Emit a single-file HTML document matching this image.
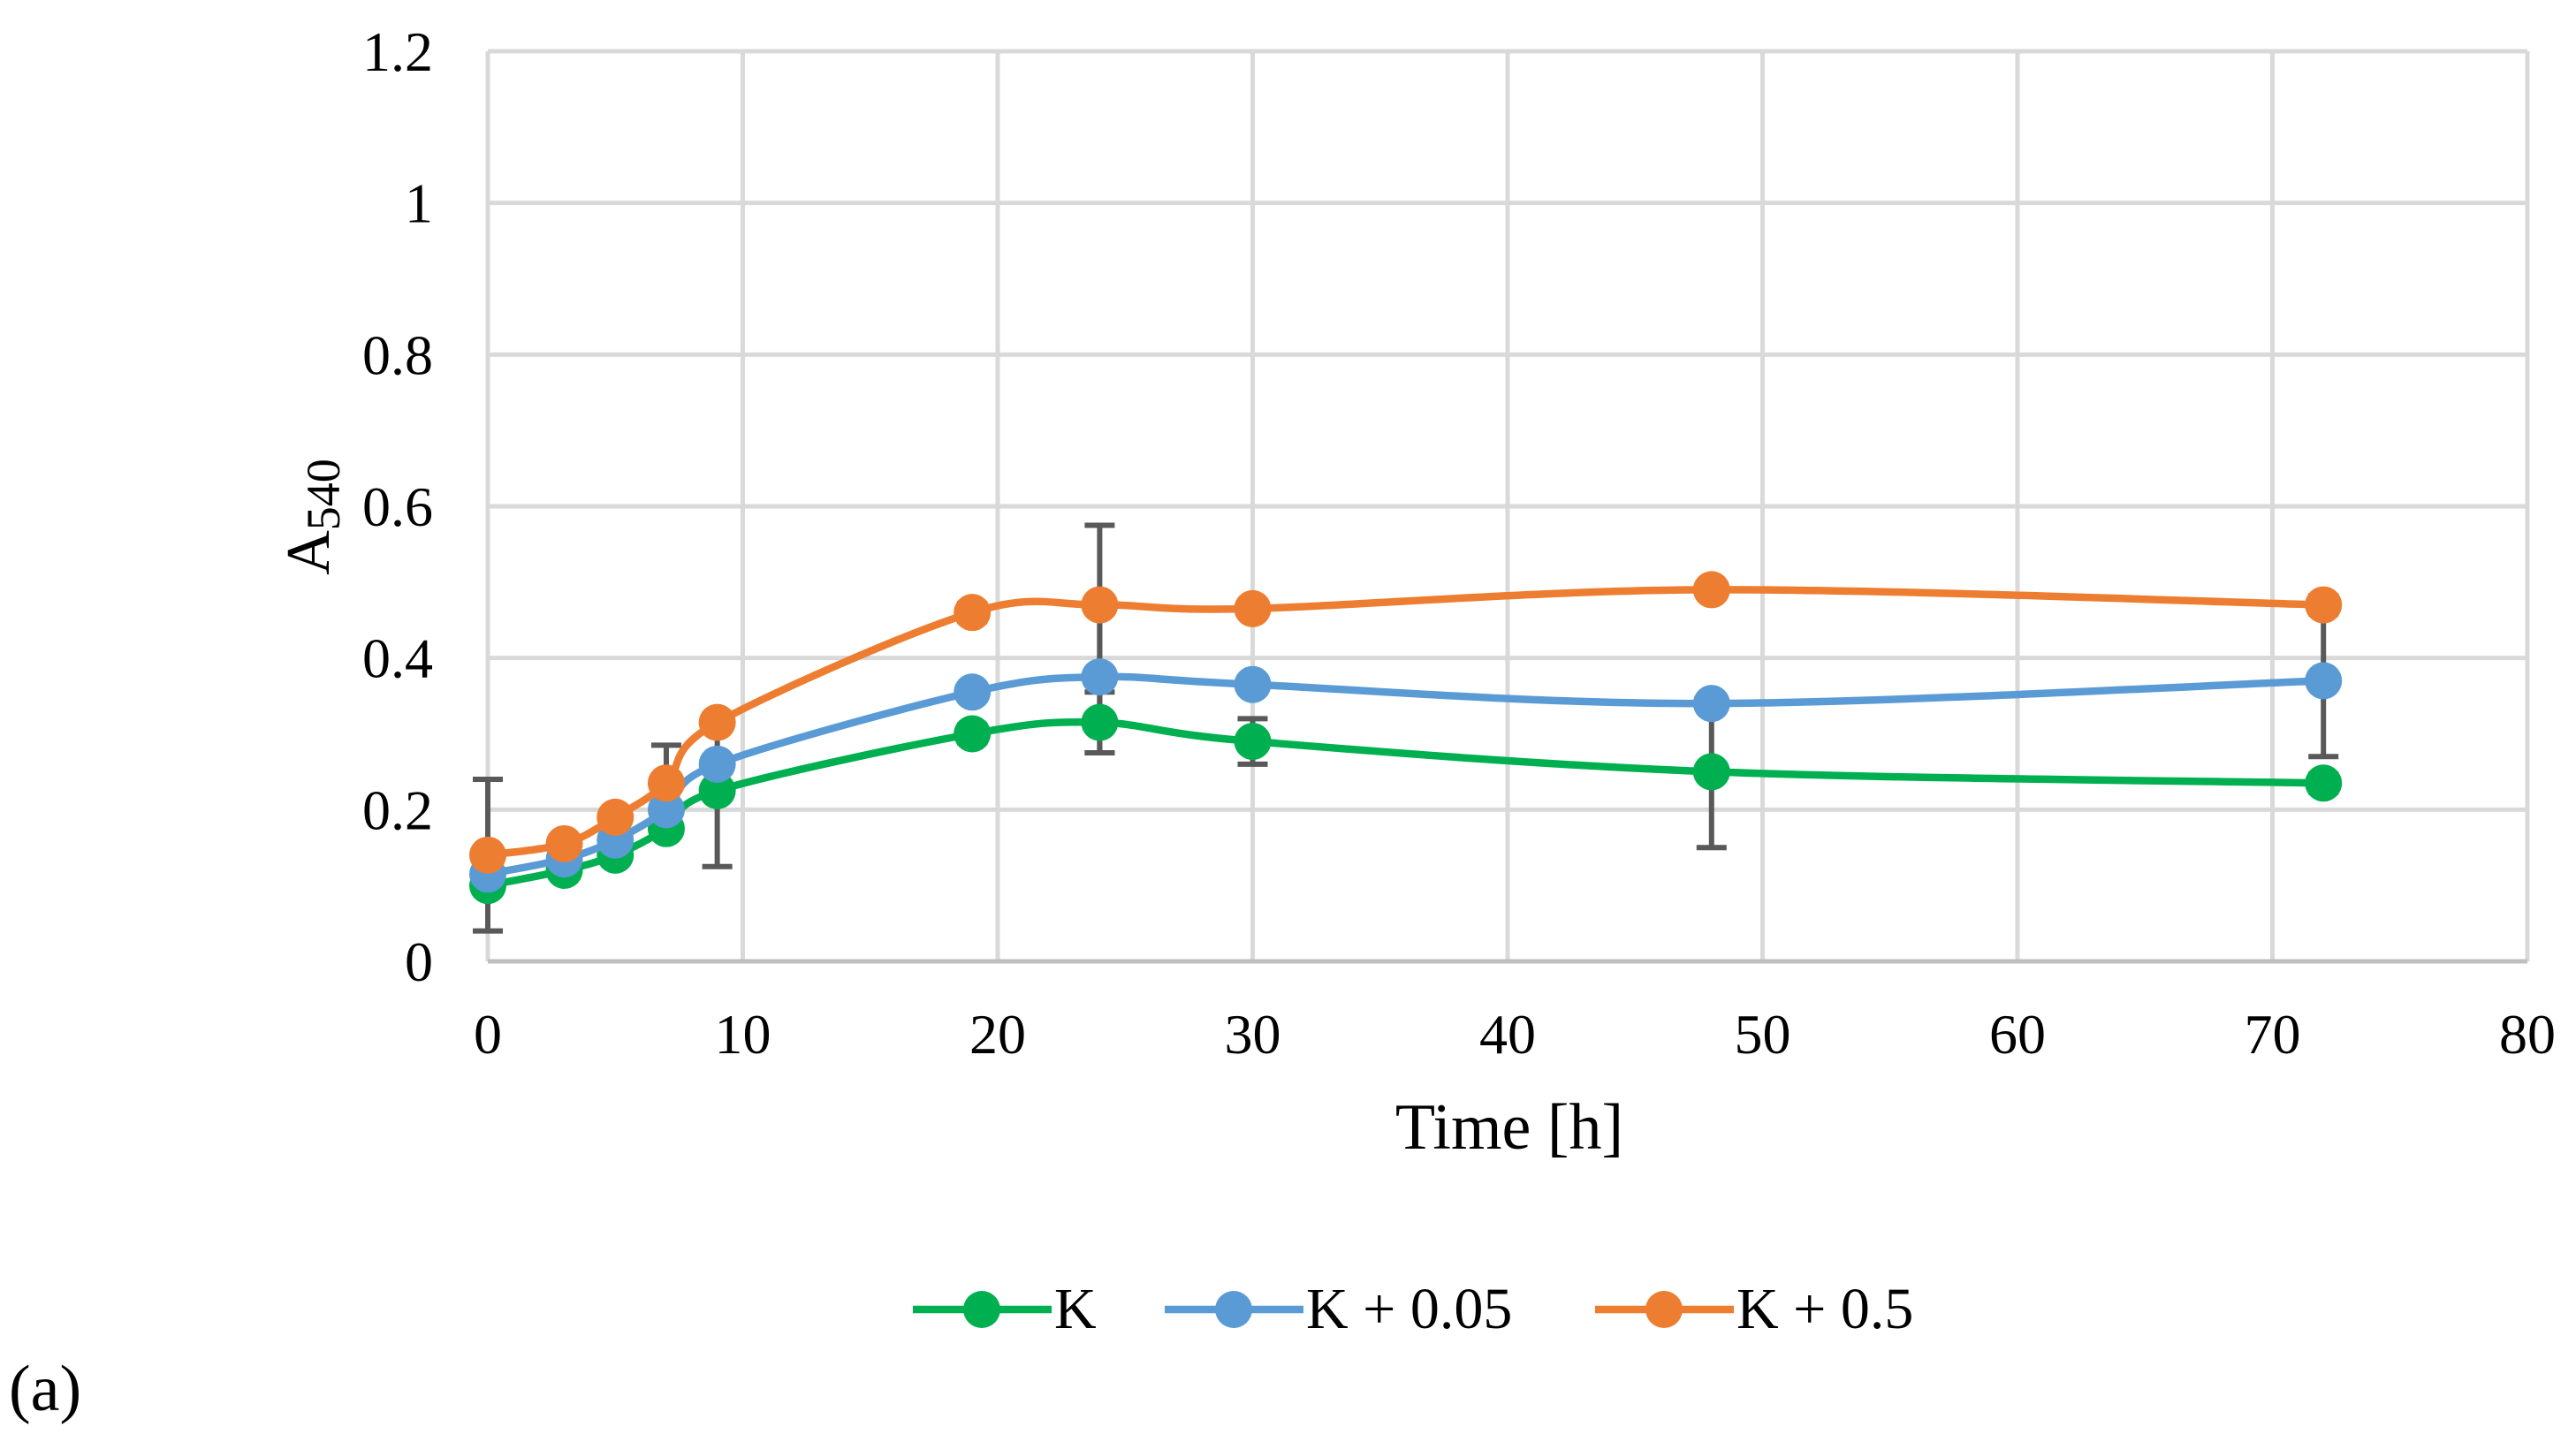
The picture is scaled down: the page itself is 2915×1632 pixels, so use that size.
<!DOCTYPE html>
<html><head><meta charset="utf-8"><style>
body{margin:0;background:#fff}
svg{display:block}
text{font-family:"Liberation Serif",serif;fill:#000}
</style></head><body>
<svg id="c" width="2915" height="1632" viewBox="0 0 2915 1632">
<g id="grid"></g>
<g id="errs"></g>
<g id="series"></g>
<g id="ticks"></g>
<text x="1708" y="1300" font-size="74" text-anchor="middle">Time [h]</text>
<text transform="translate(372,585) rotate(-90)" font-size="70" text-anchor="middle">A<tspan font-size="54" dy="12">540</tspan></text>
<g id="legend"></g>
<text x="10" y="1596" font-size="74">(a)</text>
</svg>
<script>
const times=[0,3,5,7,9,19,24,30,48,72];
const seriesNames=["K","K + 0.05","K + 0.5"];
const kVals=[0.1,0.12,0.14,0.175,0.225,0.3,0.315,0.29,0.25,0.235];
const k005Vals=[0.115,0.135,0.16,0.2,0.26,0.355,0.375,0.365,0.34,0.37];
const k05Vals=[0.14,0.155,0.19,0.235,0.315,0.46,0.47,0.465,0.49,0.47];
const kErr=[0,0,0,0,0.1,0.012,0.04,0.03,0.1,0.012];
const k005Err=[0,0,0,0,0,0,0.1,0,0,0.1];
const k05Err=[0.1,0,0,0.05,0,0.012,0.105,0,0,0.012];
const xTicks=[0,10,20,30,40,50,60,70,80];
const yTicks=[0,0.2,0.4,0.6,0.8,1,1.2];
const yTickLabels=["0","0.2","0.4","0.6","0.8","1","1.2"];
const colors=["#00b050","#5b9bd5","#ed7d31"];
const X0=552,X1=2860,Y0=1088,Y1=58;
const xs=v=>X0+(v-0)/80*(X1-X0);
const ys=v=>Y0-(v/1.2)*(Y0-Y1);
const NS="http://www.w3.org/2000/svg";
function mk(t,a,p){const e=document.createElementNS(NS,t);for(const k in a)e.setAttribute(k,a[k]);p.appendChild(e);return e;}
const grid=document.getElementById('grid');
xTicks.forEach(v=>{const l=mk('line',{x1:xs(v),x2:xs(v),y1:Y1,y2:Y0,stroke:'#d9d9d9','stroke-width':5},grid);

});
yTicks.forEach(v=>{const l=mk('line',{x1:X0,x2:X1,y1:ys(v),y2:ys(v),stroke:v===0?'#bfbfbf':'#d9d9d9','stroke-width':5},grid);

});
const tk=document.getElementById('ticks');
yTicks.forEach((v,i)=>{const t=mk('text',{x:490,y:ys(v)+22,'font-size':64,'text-anchor':'end'},tk);t.textContent=yTickLabels[i];

});
xTicks.forEach(v=>{const t=mk('text',{x:xs(v),y:1192,'font-size':64,'text-anchor':'middle'},tk);t.textContent=String(v);

});
const all=[kVals,k005Vals,k05Vals],errsA=[kErr,k005Err,k05Err];
const eg=document.getElementById('errs');
all.forEach((vals,s)=>{vals.forEach((v,i)=>{const e=errsA[s][i];if(!e)return;
const x=xs(times[i]),a=ys(v+e),b=ys(v-e);
const g=mk('g',{stroke:'#595959','stroke-width':6},eg);


mk('line',{x1:x,x2:x,y1:a,y2:b},g);mk('line',{x1:x-17,x2:x+17,y1:a,y2:a},g);mk('line',{x1:x-17,x2:x+17,y1:b,y2:b},g);});});
function smooth(pts){let d=`M${pts[0][0]},${pts[0][1]}`;for(let i=0;i<pts.length-1;i++){const p0=pts[i-1]||pts[i],p1=pts[i],p2=pts[i+1],p3=pts[i+2]||p2;const t=6;
d+=` C${p1[0]+(p2[0]-p0[0])/t},${p1[1]+(p2[1]-p0[1])/t} ${p2[0]-(p3[0]-p1[0])/t},${p2[1]-(p3[1]-p1[1])/t} ${p2[0]},${p2[1]}`;}return d;}
const sg=document.getElementById('series');
all.forEach((vals,s)=>{const g=mk('g',{},sg);


const pts=vals.map((v,i)=>[xs(times[i]),ys(v)]);
mk('path',{d:smooth(pts),fill:'none',stroke:colors[s],'stroke-width':8.5},g);
pts.forEach(p=>{const c=mk('circle',{cx:p[0],cy:p[1],r:21,fill:colors[s]},g);

});});
const lg=document.getElementById('legend');
const lx=[1033,1318,1805];
seriesNames.forEach((n,s)=>{const g=mk('g',{},lg);


const x=lx[s];mk('line',{x1:x,x2:x+157,y1:1482,y2:1482,stroke:colors[s],'stroke-width':8.5},g);
mk('circle',{cx:x+78,cy:1482,r:21,fill:colors[s]},g);
const t=mk('text',{x:x+160,y:1503,'font-size':66},g);t.textContent=n;});
</script>
</body></html>
